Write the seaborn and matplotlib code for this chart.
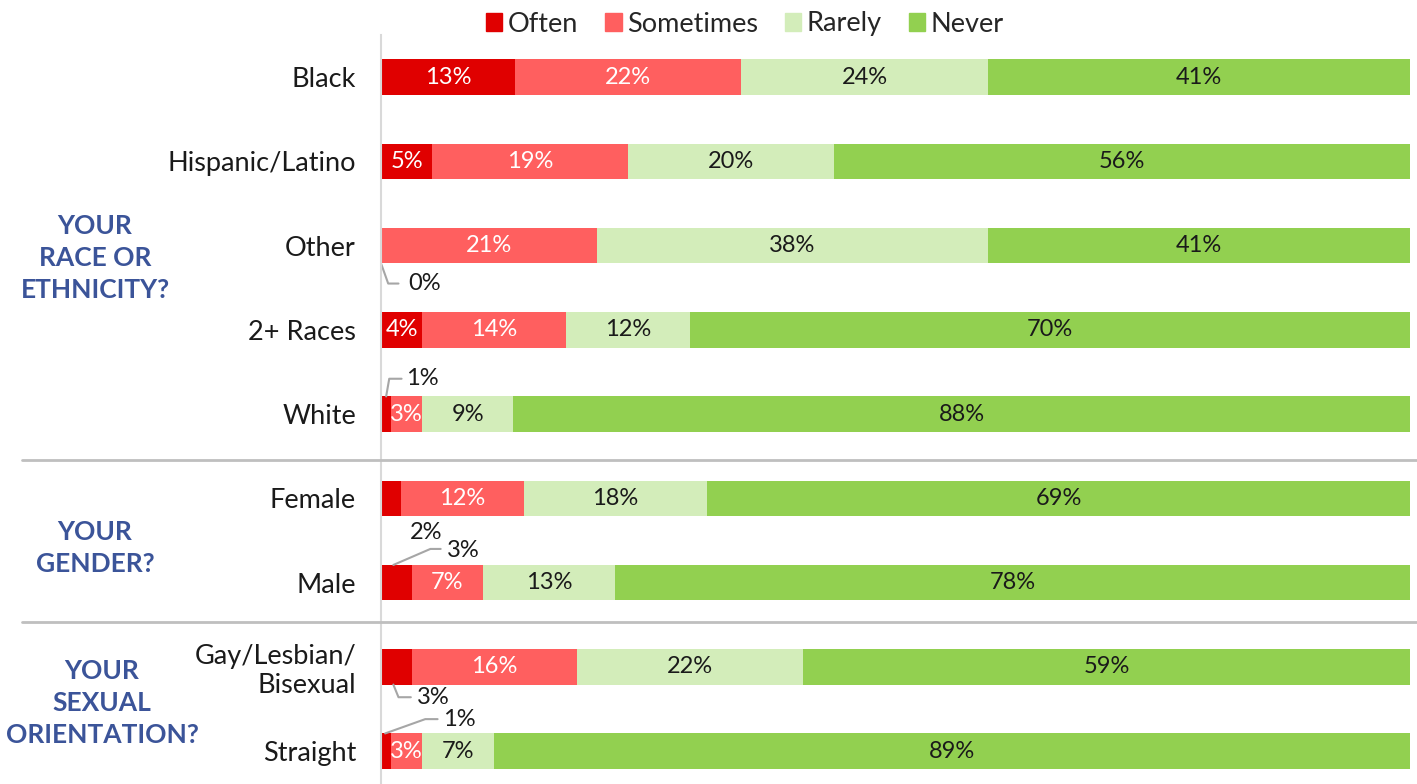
import numpy as np
import pandas as pd
import seaborn as sns
import matplotlib.pyplot as plt
from matplotlib.lines import Line2D

# data
groups = ['Black', 'Hispanic/Latino', 'Other', '2+ Races', 'White',
          'Female', 'Male', 'Gay/Lesbian/\nBisexual', 'Straight']
often = [13, 5, 0, 4, 1, 2, 3, 3, 1]
sometimes = [22, 19, 21, 14, 3, 12, 7, 16, 3]
rarely = [24, 20, 38, 12, 9, 18, 13, 22, 7]
never = [41, 56, 41, 70, 88, 69, 78, 59, 89]

series = ['Often', 'Sometimes', 'Rarely', 'Never']
palette = {'Often': '#E00000', 'Sometimes': '#FF5F5F',
           'Rarely': '#D3EDBA', 'Never': '#92D050'}
text_col = {'Often': 'white', 'Sometimes': 'white',
            'Rarely': '#1a1a1a', 'Never': '#1a1a1a'}

df = pd.DataFrame({'group': groups, 'Often': often, 'Sometimes': sometimes,
                   'Rarely': rarely, 'Never': never})
tot = df[series].sum(axis=1)
for s in series:
    df[s] = df[s] / tot * 100   # bars fill the full width
cum = df[series].cumsum(axis=1)

sns.set_style('white')
plt.rcParams['font.family'] = ['Lato', 'DejaVu Sans']

fig = plt.figure(figsize=(14.17, 7.84), dpi=100)
ax = fig.add_axes([381 / 1417, 0.0, 1029 / 1417, 749 / 784])

# stacked bars: draw cumulative totals from the back
for s in reversed(series):
    sns.barplot(x=cum[s], y=df['group'], color=palette[s], width=0.42,
                orient='h', ax=ax, saturation=1, linewidth=0)

ax.set_xlim(0, 100)
ax.set_ylim(8.39, -0.5)
ax.set_xlabel('')
ax.set_ylabel('')
ax.set_xticks([])
ax.tick_params(axis='y', length=0, pad=18, labelsize=19.5, labelcolor='#1a1a1a')
for sp in ['top', 'right', 'bottom']:
    ax.spines[sp].set_visible(False)
ax.spines['left'].set_color('#D9D9D9')
ax.spines['left'].set_linewidth(1.5)

# labels inside the segments
raw = {'Often': often, 'Sometimes': sometimes, 'Rarely': rarely, 'Never': never}
for i in range(len(groups)):
    for s in series:
        v = raw[s][i]
        if s == 'Often' and v <= 3:
            continue
        mid = cum[s][i] - df[s][i] / 2
        ax.text(mid, i, f'{v}%', ha='center', va='center', fontsize=17,
                color=text_col[s])

# call-outs for the tiny "Often" slices: (row, line points, text pos)
callouts = [
    (2, [(0.0, 2.21), (0.7, 2.45), (1.7, 2.45)], (2.6, 2.45)),
    (4, [(0.5, 3.79), (0.8, 3.58), (2.0, 3.58)], (2.4, 3.58)),
    (5, None, (2.8, 5.41)),
    (6, [(1.2, 5.79), (4.8, 5.6), (5.8, 5.6)], (6.4, 5.62)),
    (7, [(1.2, 7.21), (1.7, 7.36), (2.9, 7.36)], (3.5, 7.36)),
    (8, [(0.4, 7.79), (4.3, 7.62), (5.5, 7.62)], (6.0, 7.62)),
]
for row, pts, (tx, ty) in callouts:
    if pts:
        xs, ys = zip(*pts)
        ax.plot(xs, ys, color='#A6A6A6', lw=1.5, clip_on=False)
    ax.text(tx, ty, f'{often[row]}%', ha='left', va='center', fontsize=17,
            color='#1a1a1a')

# group headings and separators
heads = [('YOUR\nRACE OR\nETHNICITY?', 95, 258),
         ('YOUR\nGENDER?', 95, 548),
         ('YOUR\nSEXUAL\nORIENTATION?', 102, 703)]
for txt, px, py in heads:
    fig.text(px / 1417, 1 - py / 784, txt, ha='center', va='center',
             fontsize=19, fontweight='bold', color='#3B5499', linespacing=1.38)
for py in [460, 622]:
    fig.add_artist(Line2D([22 / 1417, 1], [1 - py / 784] * 2,
                          color='#BFBFBF', lw=2))

handles = [plt.Rectangle((0, 0), 1, 1, color=palette[s]) for s in series]
fig.legend(handles, series, loc='center', bbox_to_anchor=(745 / 1417, 1 - 24 / 784),
           ncol=4, frameon=False, fontsize=19.5, handlelength=0.6, handleheight=0.6,
           handletextpad=0.2, columnspacing=1.0)

fig.savefig('out.png', dpi=100)
